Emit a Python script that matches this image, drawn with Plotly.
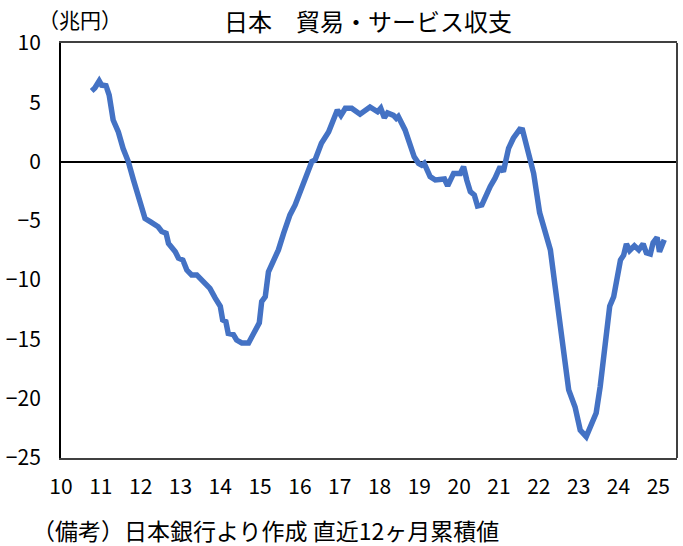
import plotly.graph_objects as go

# Year (decimal) and 12-month cumulative trade & services balance (trillion yen)
years = [10.77, 10.85, 10.96, 11.02, 11.13, 11.21, 11.31, 11.44, 11.56, 11.69, 11.82, 11.98,
         12.11, 12.24, 12.44, 12.53, 12.64, 12.70, 12.87, 12.95, 13.06, 13.16, 13.28, 13.41,
         13.58, 13.74, 13.87, 14.00, 14.06, 14.14, 14.20, 14.33, 14.41, 14.54, 14.71, 14.83,
         14.98, 15.04, 15.13, 15.21, 15.33, 15.46, 15.59, 15.75, 15.88, 16.00, 16.13, 16.21,
         16.30, 16.38, 16.54, 16.72, 16.84, 16.94, 17.03, 17.14, 17.30, 17.51, 17.76, 17.95,
         18.03, 18.12, 18.20, 18.35, 18.42, 18.47, 18.64, 18.77, 18.87, 18.98, 19.06, 19.12,
         19.27, 19.40, 19.56, 19.63, 19.71, 19.86, 20.03, 20.11, 20.19, 20.28, 20.38, 20.46,
         20.57, 20.65, 20.78, 20.90, 21.03, 21.11, 21.24, 21.36, 21.52, 21.59, 21.72, 21.87,
         22.02, 22.16, 22.29, 22.41, 22.54, 22.62, 22.75, 22.91, 23.04, 23.19, 23.33, 23.44,
         23.54, 23.67, 23.78, 23.88, 23.96, 24.05, 24.13, 24.20, 24.28, 24.40, 24.51, 24.62,
         24.70, 24.80, 24.87, 24.97, 25.03, 25.15]
balance = [5.95, 6.2, 6.8, 6.45, 6.4, 5.6, 3.5, 2.5, 1.1, 0.0, -1.55, -3.5,
           -4.8, -5.07, -5.5, -5.9, -6.05, -6.9, -7.6, -8.15, -8.3, -9.15, -9.56, -9.56,
           -10.13, -10.7, -11.5, -12.2, -13.36, -13.5, -14.5, -14.6, -15.05, -15.3, -15.3, -14.6,
           -13.6, -11.8, -11.4, -9.3, -8.3, -7.45, -6.05, -4.5, -3.66, -2.67, -1.4, -0.7,
           0.0, 0.13, 1.55, 2.5, 3.4, 4.35, 3.9, 4.5, 4.5, 4.0, 4.6, 4.2,
           4.5, 3.7, 4.1, 3.9, 3.65, 3.8, 2.67, 1.55, 0.4, -0.15, -0.3, -0.15,
           -1.27, -1.55, -1.55, -1.47, -2.05, -1.0, -1.0, -0.43, -1.55, -2.54, -2.82, -3.75,
           -3.66, -2.96, -2.1, -1.4, -0.43, -0.85, 1.12, 1.97, 2.72, 2.67, 0.98, -1.0,
           -4.3, -5.77, -7.45, -10.55, -13.9, -16.2, -19.26, -20.7, -22.65, -23.2, -22.1, -21.2,
           -19.0, -15.6, -12.2, -11.4, -10.0, -8.3, -7.9, -6.95, -7.5, -7.1, -7.45, -6.95,
           -7.7, -7.8, -6.84, -6.4, -7.6, -6.6]

x_ticks = list(range(10, 26))
x_labels = [str(v) for v in x_ticks]
y_ticks = [10, 5, 0, -5, -10, -15, -20, -25]

FONT = "Noto Sans CJK JP"

fig = go.Figure()
fig.add_trace(go.Scatter(x=years, y=balance, mode="lines",
                         line=dict(color="#4472C4", width=5.5), hoverinfo="skip",
                         showlegend=False))

fig.update_layout(
    width=683, height=546,
    margin=dict(l=61, r=6, t=43, b=88),
    paper_bgcolor="white", plot_bgcolor="white",
    font=dict(family=FONT, size=20, color="black"),
    title=dict(text="日本　貿易・サービス収支", x=368/683, xanchor="center",
               y=1 - 23/546, yanchor="middle", font=dict(family=FONT, size=24, color="black")),
    xaxis=dict(range=[10, 25.47], tickvals=x_ticks, ticktext=x_labels, showgrid=False,
               zeroline=False, showline=True, linecolor="#404040", linewidth=2, mirror=True,
               ticks="", ticklen=0, ticklabelstandoff=9, tickfont=dict(family=FONT, size=21)),
    yaxis=dict(range=[-25, 10], tickvals=y_ticks, showgrid=False,
               zeroline=True, zerolinecolor="black", zerolinewidth=2,
               showline=True, linecolor="black", linewidth=2, ticks="",
               ticklabelstandoff=14, tickfont=dict(family=FONT, size=21)),
    shapes=[dict(type="line", xref="paper", yref="paper", x0=1, x1=1, y0=0, y1=1,
                 line=dict(color="#404040", width=2))],
    annotations=[
        dict(text="（兆円）", xref="paper", yref="paper", x=(80 - 61) / 616, y=(458 - 19) / 415,
             xanchor="center", yanchor="middle", showarrow=False,
             font=dict(family=FONT, size=21, color="black")),
        dict(text="（備考）日本銀行より作成 直近12ヶ月累積値", xref="paper", yref="paper",
             x=(30 - 61) / 616, y=(458 - 530) / 415, xanchor="left", yanchor="middle",
             showarrow=False, font=dict(family=FONT, size=23, color="black")),
    ],
)

fig.write_html("out.html")
